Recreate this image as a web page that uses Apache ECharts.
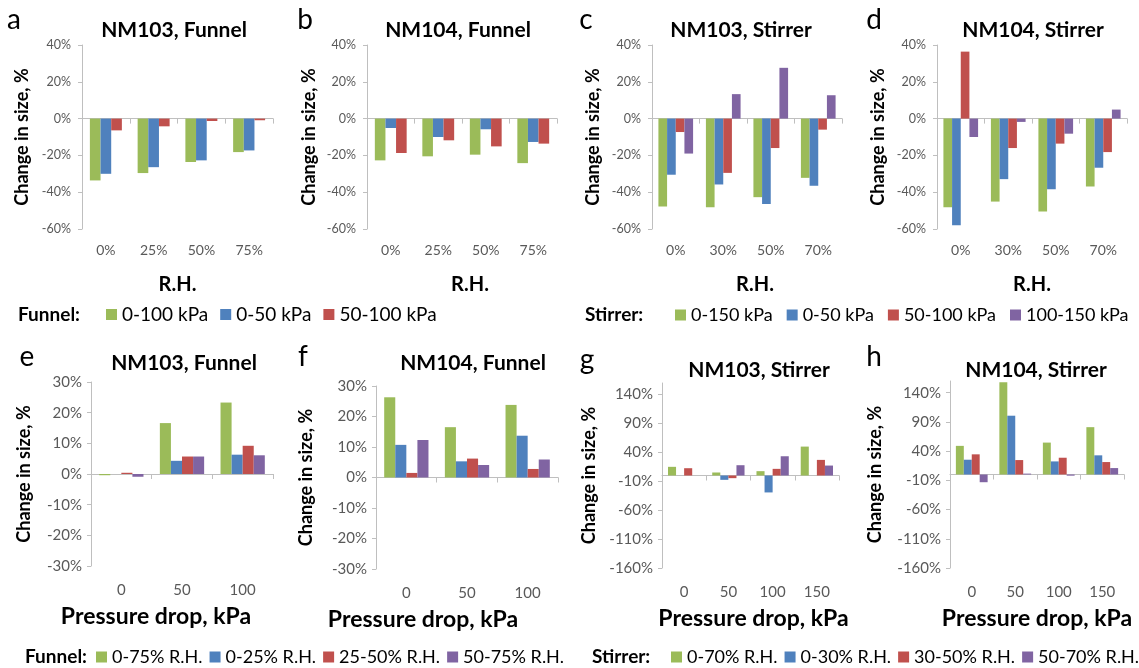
<!DOCTYPE html>
<html>
<head>
<meta charset="utf-8">
<script src="https://cdn.jsdelivr.net/npm/echarts@6/dist/echarts.min.js"></script>
<style>
  html, body { margin: 0; padding: 0; background: #fff; }
  #chart { width: 1139px; height: 668px; }
</style>
</head>
<body>
<div id="chart"></div>
<script>
// ---- categories ----
const rhFunnel = ['0%', '25%', '50%', '75%'];
const rhStirrer = ['0%', '30%', '50%', '70%'];
const dpFunnel = ['0', '50', '100'];
const dpStirrer = ['0', '50', '100', '150'];

// ---- series names (legend entries) ----
const funnelKpa = ['0-100 kPa', '0-50 kPa', '50-100 kPa'];
const stirrerKpa = ['0-150 kPa', '0-50 kPa', '50-100 kPa', '100-150 kPa'];
const funnelRH = ['0-75% R.H.', '0-25% R.H.', '25-50% R.H.', '50-75% R.H.'];
const stirrerRH = ['0-70% R.H.', '0-30% R.H.', '30-50% R.H.', '50-70% R.H.'];

// ---- y tick values (percent) ----
const yTicksRH = [-60, -40, -20, 0, 20, 40];
const yTicksFunnelDp = [-30, -20, -10, 0, 10, 20, 30];
const yTicksStirrerDp = [-160, -110, -60, -10, 40, 90, 140];
const yMaxStirrerDp = 160;

// ---- a: NM103, Funnel (change in size, %) ----
const a_0_100 = [-33.6, -29.6, -23.6, -18.2];
const a_0_50 = [-30.0, -26.4, -22.7, -17.3];
const a_50_100 = [-6.4, -4.2, -1.3, -0.9];
// ---- b: NM104, Funnel ----
const b_0_100 = [-22.7, -20.5, -19.6, -24.2];
const b_0_50 = [-5.1, -10.0, -5.8, -12.7];
const b_50_100 = [-18.7, -11.8, -15.1, -13.6];
// ---- c: NM103, Stirrer ----
const c_0_150 = [-47.8, -48.2, -42.7, -32.2];
const c_0_50 = [-30.5, -35.8, -46.4, -36.5];
const c_50_100 = [-7.3, -29.5, -16.0, -6.0];
const c_100_150 = [-19.0, 13.3, 27.6, 12.7];
// ---- d: NM104, Stirrer ----
const d_0_150 = [-48.2, -45.1, -50.5, -36.9];
const d_0_50 = [-58.0, -32.9, -38.4, -26.7];
const d_50_100 = [36.4, -16.0, -13.6, -18.2];
const d_100_150 = [-10.0, -1.8, -8.2, 4.9];
// ---- e: NM103, Funnel vs pressure drop ----
const e_0_75 = [-0.4, 16.6, 23.3];
const e_0_25 = [0.0, 4.3, 6.3];
const e_25_50 = [0.4, 5.7, 9.2];
const e_50_75 = [-0.9, 5.7, 6.1];
// ---- f: NM104, Funnel vs pressure drop ----
const f_0_75 = [26.3, 16.5, 23.8];
const f_0_25 = [10.7, 5.3, 13.7];
const f_25_50 = [1.5, 6.2, 2.8];
const f_50_75 = [12.3, 4.1, 5.9];
// ---- g: NM103, Stirrer vs pressure drop ----
const g_0_70 = [15.0, 5.2, 7.5, 50.0];
const g_0_30 = [0.0, -7.5, -29.3, 0.0];
const g_30_50 = [12.6, -4.6, 11.5, 27.0];
const g_50_70 = [0.0, 17.8, 33.3, 17.2];
// ---- h: NM104, Stirrer vs pressure drop ----
const h_0_70 = [49.0, 158.0, 54.6, 81.0];
const h_0_30 = [25.3, 100.6, 22.4, 32.8];
const h_30_50 = [34.5, 24.7, 28.7, 21.3];
const h_50_70 = [-13.2, 1.5, -2.0, 11.0];

// ---- styling ----
const FONT = 'Lato, "Open Sans", sans-serif';
const COLORS = ['#9BBB59', '#4F81BD', '#C0504D', '#8064A2'];
const AXIS_COLOR = '#BFBFBF';
const LABEL_COLOR = '#595959';

const topRow = { tickSize: 12.5, catSize: 14, catMargin: 14, nameSize: 20, nameGap: 46, yNameSize: 18, yLabelMargin: 11 };
const botRow = { tickSize: 15, catSize: 15, catMargin: 17, nameSize: 23, nameGap: 39, yNameSize: 18, yLabelMargin: 9 };

const panels = [
  { letter: 'a', title: 'NM103, Funnel', cats: rhFunnel, names: funnelKpa, values: [a_0_100, a_0_50, a_50_100],
    yTicks: yTicksRH, yMax: 40, xName: 'R.H.', row: topRow,
    box: [82, 45, 191, 184], letterPos: [14, 20], titlePos: [174, 30], yNameGap: 51, xShift: 0 },
  { letter: 'b', title: 'NM104, Funnel', cats: rhFunnel, names: funnelKpa, values: [b_0_100, b_0_50, b_50_100],
    yTicks: yTicksRH, yMax: 40, xName: 'R.H.', row: topRow,
    box: [367, 45, 190, 184], letterPos: [305, 20], titlePos: [458, 30], yNameGap: 49, xShift: 8 },
  { letter: 'c', title: 'NM103, Stirrer', cats: rhStirrer, names: stirrerKpa, values: [c_0_150, c_0_50, c_50_100, c_100_150],
    yTicks: yTicksRH, yMax: 40, xName: 'R.H.', row: topRow,
    box: [652, 45, 190, 184], letterPos: [586, 20], titlePos: [741, 30], yNameGap: 50, xShift: 8 },
  { letter: 'd', title: 'NM104, Stirrer', cats: rhStirrer, names: stirrerKpa, values: [d_0_150, d_0_50, d_50_100, d_100_150],
    yTicks: yTicksRH, yMax: 40, xName: 'R.H.', row: topRow,
    box: [937, 45, 190, 184], letterPos: [874, 20], titlePos: [1033, 30], yNameGap: 50, xShift: 0 },
  { letter: 'e', title: 'NM103, Funnel', cats: dpFunnel, names: funnelRH, values: [e_0_75, e_0_25, e_25_50, e_50_75],
    yTicks: yTicksFunnelDp, yMax: 30, xName: 'Pressure drop, kPa', row: botRow,
    box: [91, 382, 182, 184], letterPos: [27, 357], titlePos: [184, 363], yNameGap: 58, xShift: -26 },
  { letter: 'f', title: 'NM104, Funnel', cats: dpFunnel, names: funnelRH, values: [f_0_75, f_0_25, f_25_50, f_50_75],
    yTicks: yTicksFunnelDp, yMax: 30, xName: 'Pressure drop, kPa', row: botRow,
    box: [376, 386, 182, 183], letterPos: [303, 357], titlePos: [473, 363], yNameGap: 61, xShift: -44 },
  { letter: 'g', title: 'NM103, Stirrer', cats: dpStirrer, names: stirrerRH, values: [g_0_70, g_0_30, g_30_50, g_50_70],
    yTicks: yTicksStirrerDp, yMax: yMaxStirrerDp, xName: 'Pressure drop, kPa', row: botRow,
    box: [662, 383, 177, 185], letterPos: [587, 360], titlePos: [759, 370], yNameGap: 64, xShift: 3 },
  { letter: 'h', title: 'NM104, Stirrer', cats: dpStirrer, names: stirrerRH, values: [h_0_70, h_0_30, h_30_50, h_50_70],
    yTicks: yTicksStirrerDp, yMax: yMaxStirrerDp, xName: 'Pressure drop, kPa', row: botRow,
    box: [950, 381, 174, 187], letterPos: [874, 357], titlePos: [1036, 370], yNameGap: 66, xShift: 0 }
];

const option = {
  animation: false,
  backgroundColor: '#ffffff',
  textStyle: { fontFamily: FONT },
  grid: [], xAxis: [], yAxis: [], series: [], legend: [], graphic: []
};

panels.forEach((p, i) => {
  const r = p.row;
  option.grid.push({
    left: p.box[0], top: p.box[1], width: p.box[2], height: p.box[3],
    containLabel: false, outerBoundsMode: 'none'
  });
  // axis line through zero, ticks between categories
  option.xAxis.push({
    type: 'category', gridIndex: i, data: p.cats, position: 'bottom',
    axisLine: { show: true, onZero: true, lineStyle: { color: AXIS_COLOR, width: 1 } },
    axisTick: { show: true, length: 5, lineStyle: { color: AXIS_COLOR } },
    axisLabel: { show: false }, splitLine: { show: false }
  });
  // category labels and axis title along the bottom of the plot
  const shift = p.xShift;
  option.xAxis.push({
    type: 'category', gridIndex: i, data: p.cats, position: 'bottom',
    axisLine: { show: false, onZero: false }, axisTick: { show: false }, splitLine: { show: false },
    axisLabel: { show: true, margin: r.catMargin, color: LABEL_COLOR, fontFamily: FONT, fontSize: r.catSize },
    name: p.xName, nameLocation: 'middle', nameGap: r.nameGap,
    nameTextStyle: {
      fontFamily: FONT, fontWeight: 'bold', fontSize: r.nameSize, color: '#000',
      padding: shift < 0 ? [0, -2 * shift, 0, 0] : [0, 0, 0, 2 * shift]
    }
  });
  const ticks = p.yTicks;
  const lastTick = ticks[ticks.length - 1];
  option.yAxis.push({
    type: 'value', gridIndex: i,
    min: ticks[0], max: p.yMax, interval: ticks[1] - ticks[0],
    axisLine: { show: true, lineStyle: { color: AXIS_COLOR, width: 1 } },
    axisTick: { show: true, length: 4, lineStyle: { color: AXIS_COLOR } },
    splitLine: { show: false },
    axisLabel: {
      formatter: '{value}%', color: LABEL_COLOR, fontFamily: FONT, fontSize: r.tickSize,
      margin: r.yLabelMargin, showMaxLabel: p.yMax === lastTick ? null : false
    },
    name: 'Change in size, %', nameLocation: 'middle', nameGap: p.yNameGap,
    nameTextStyle: { fontFamily: FONT, fontWeight: 'bold', fontSize: r.yNameSize, color: '#000' }
  });
  const gap = p.values.length === 3 ? '33%' : '27%';
  p.values.forEach((vals, k) => {
    option.series.push({
      type: 'bar', name: p.names[k], xAxisIndex: 2 * i, yAxisIndex: i, data: vals,
      barGap: '0%', barCategoryGap: gap,
      itemStyle: { color: COLORS[k] },
      emphasis: { disabled: true }
    });
  });
  // panel letter and title
  option.graphic.push({
    type: 'text', x: p.letterPos[0], y: p.letterPos[1], silent: true,
    style: { text: p.letter, fill: '#000', font: '28px ' + FONT, align: 'center', verticalAlign: 'middle' }
  });
  option.graphic.push({
    type: 'text', x: p.titlePos[0], y: p.titlePos[1], silent: true,
    style: { text: p.title, fill: '#000', font: 'bold 21px ' + FONT, align: 'center', verticalAlign: 'middle' }
  });
});

// legend captions
const captions = [
  { text: 'Funnel:', x: 18, y: 315 },
  { text: 'Stirrer:', x: 585, y: 315 },
  { text: 'Funnel:', x: 25, y: 657 },
  { text: 'Stirrer:', x: 592, y: 657 }
];
captions.forEach(c => {
  option.graphic.push({
    type: 'text', x: c.x, y: c.y, silent: true,
    style: { text: c.text, fill: '#000', font: 'bold 19px ' + FONT, align: 'left', verticalAlign: 'middle' }
  });
});

const legendBase = {
  orient: 'horizontal', icon: 'rect', itemWidth: 11, itemHeight: 11, selectedMode: false,
  width: 1000, padding: 0,
  textStyle: { fontFamily: FONT, fontSize: 18, color: '#000' }
};
const legendTopText = { fontFamily: FONT, fontSize: 19, color: '#000' };
option.legend = [
  Object.assign({}, legendBase, { data: funnelKpa, left: 106, top: 305, itemGap: 12, textStyle: legendTopText }),
  Object.assign({}, legendBase, { data: stirrerKpa, left: 675, top: 306, itemGap: 14 }),
  Object.assign({}, legendBase, { data: funnelRH, left: 96, top: 648, itemGap: 7 }),
  Object.assign({}, legendBase, { data: stirrerRH, left: 671, top: 648, itemGap: 7 })
];

const chart = echarts.init(document.getElementById('chart'));
chart.setOption(option);
</script>
</body>
</html>
